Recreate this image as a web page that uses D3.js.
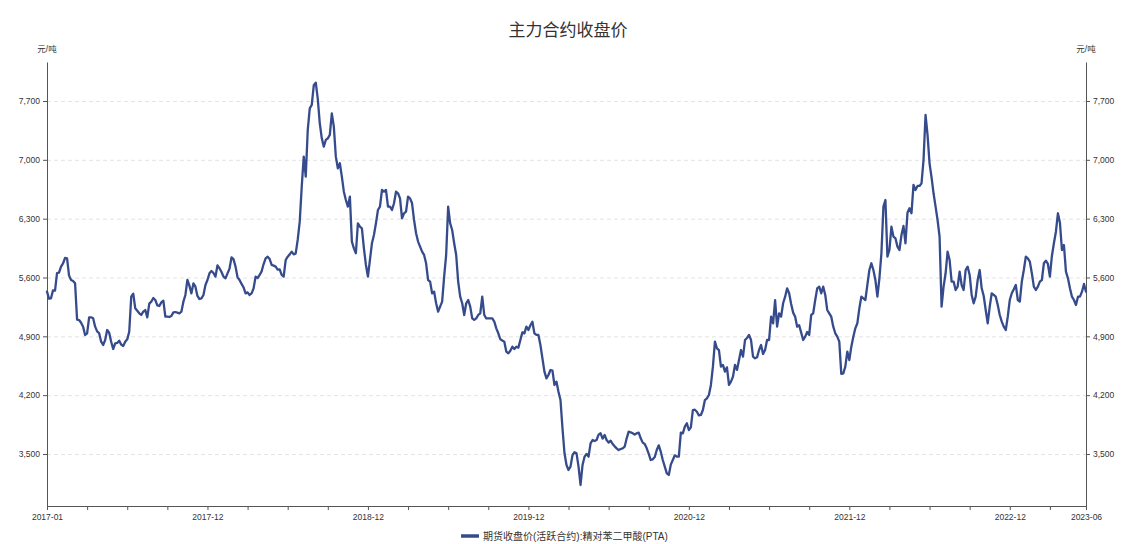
<!DOCTYPE html>
<html><head><meta charset="utf-8">
<script src="https://cdn.jsdelivr.net/npm/d3@7"></script>
<style>body{margin:0;background:#fff} svg{display:block}</style>
</head><body><svg id="c" width="1137" height="544"></svg>
<script>
const title = "主力合约收盘价";
const unit = "元/吨";
const seriesName = "期货收盘价(活跃合约):精对苯二甲酸(PTA)";
const xLabels = ["2017-01","2017-12","2018-12","2019-12","2020-12","2021-12","2022-12","2023-06"];
const xLabelIndex = [0,80,160,240,320,400,480,518];
const yTicks = [3500,4200,4900,5600,6300,7000,7700];
const prices = [
5431,5348,5352,5447,5443,5653,5657,5729,5768,5832,5828,5622,5570,5558,5530,5098,5094,5062,5015,4916,4936,5126,5126,5114,5015,4959,4936,4836,4797,4856,4975,4943,4836,4749,4817,4821,4848,4801,4785,4836,4864,4955,5372,5407,5233,5205,5174,5154,5193,5213,5126,5289,5312,5356,5332,5269,5261,5304,5324,5134,5134,5130,5142,5185,5189,5181,5174,5193,5312,5392,5570,5503,5411,5530,5491,5380,5344,5352,5392,5511,5570,5649,5677,5653,5610,5745,5709,5665,5610,5590,5649,5705,5840,5816,5729,5602,5570,5523,5483,5411,5423,5392,5411,5471,5610,5594,5630,5673,5760,5828,5848,5820,5749,5741,5729,5693,5697,5630,5610,5808,5848,5875,5907,5875,5887,6050,
6264,6681,7038,6800,7355,7613,7653,7887,7918,7724,7434,7256,7157,7236,7256,7296,7553,7395,7038,6899,6959,6800,6621,6522,6443,6562,6027,5947,5888,6245,6205,6185,5947,5749,5610,5808,6007,6106,6245,6403,6443,6641,6621,6641,6443,6443,6403,6483,6621,6602,6542,6304,6364,6383,6562,6542,6483,6284,6126,6027,5967,5907,5868,5769,5570,5551,5412,5432,5293,5194,5253,5313,5610,5868,6443,6245,6165,6007,5868,5551,5372,5293,5154,5293,5332,5253,5114,5095,5114,5154,5174,5372,5154,5114,5114,5114,5114,5075,4995,4936,4865,4850,
4836,4717,4697,4729,4777,4749,4777,4765,4856,4947,4935,5015,4975,5031,5074,4935,4916,4916,4797,4638,4479,4400,4440,4499,4491,4321,4360,4241,4142,3805,3508,3369,3309,3349,3488,3520,3508,3349,3131,3369,3468,3500,3468,3627,3666,3654,3666,3730,3746,3682,3726,3666,3635,3658,3619,3591,3567,3547,3559,3567,3587,3686,3765,3758,3746,3730,3746,3754,3686,3635,3619,3567,3500,3428,3436,3464,3547,3603,3527,3428,3349,3270,3250,3373,3428,3484,3468,3468,3754,3746,3825,3865,3785,3817,4023,4027,4003,3960,3964,4023,4142,4162,4202,4321,4539,4836,4757,4737,4539,4560,
4480,4531,4321,4361,4420,4559,4500,4618,4737,4658,4856,4880,4916,4856,4658,4638,4650,4737,4797,4690,4737,4856,4856,5134,5055,5330,5015,5174,5134,5293,5372,5471,5412,5285,5182,5134,5015,5031,4944,4856,4896,4952,4916,5154,5174,5332,5471,5491,5412,5491,5392,5213,5174,5134,5015,4936,4896,4836,4452,4460,4539,4718,4618,4777,4896,4995,5055,5233,5372,5352,5332,5511,5689,5769,5689,5570,5372,5590,5887,6443,6522,5848,5927,6205,
6086,6066,5967,5927,6106,6213,6007,6371,6423,6364,6701,6641,6689,6689,6720,6998,7534,7296,6958,6792,6602,6443,6284,6086,5253,5491,5650,5907,5808,5551,5551,5451,5491,5670,5511,5451,5689,5729,5630,5392,5293,5372,5570,5689,5471,5380,5213,5055,5253,5412,5392,5372,5273,5154,5074,5015,4975,5134,5332,5412,5459,5511,5332,5313,5551,5689,5848,5828,5788,5650,5491,5451,5491,5551,5570,5769,5800,5761,5610,5856,6007,6145,6364,6252,5927,5987,5670,5590,5471,5372,5332,5273,5372,5372,5431,5523,5431
];

const svg = d3.select("#c");
const FONT = "'Liberation Sans','Noto Sans CJK SC',Arial,sans-serif";
const L = 47, R = 1086, T = 62, B = 506;
const lineColor = "#364b8b";
const axisColor = "#555";
const textColor = "#333";

const x = d3.scaleLinear().domain([0, prices.length - 1]).range([L, R]);
const y = d3.scaleLinear().domain([2881, 8164]).range([B, T]);

svg.append("text").attr("x", 568).attr("y", 36).attr("text-anchor", "middle")
  .style("font-family", FONT).style("font-size", "17px").attr("fill", textColor).text(title);

svg.append("g").selectAll("line").data(yTicks).join("line")
  .attr("x1", L).attr("x2", R).attr("y1", d => y(d) + 0.5).attr("y2", d => y(d) + 0.5)
  .attr("stroke", "#e3e3e3").attr("stroke-dasharray", "4,3").attr("stroke-width", 1);

function styleAxis(g) {
  g.select(".domain").attr("stroke", axisColor);
  g.selectAll(".tick line").attr("stroke", axisColor);
  g.selectAll(".tick text").attr("fill", textColor).style("font-family", FONT).style("font-size", "8.5px");
}

const fmt = d3.format(",");
svg.append("g").attr("transform", `translate(${L},0)`)
  .call(d3.axisLeft(y).tickValues(yTicks).tickFormat(fmt).tickSize(4).tickSizeOuter(0).tickPadding(3))
  .call(styleAxis);
svg.append("g").attr("transform", `translate(${R},0)`)
  .call(d3.axisRight(y).tickValues(yTicks).tickFormat(fmt).tickSize(4).tickSizeOuter(0).tickPadding(3))
  .call(styleAxis);

const xTickVals = d3.range(0, prices.length, 20).concat([prices.length - 1]);
svg.append("g").attr("transform", `translate(0,${B})`)
  .call(d3.axisBottom(x).tickValues(xTickVals).tickSize(4).tickSizeOuter(0).tickPadding(4)
    .tickFormat(d => { const k = xLabelIndex.indexOf(d); return k >= 0 ? xLabels[k] : ""; }))
  .call(styleAxis);

[L, R].forEach(px => {
  svg.append("text").attr("x", px).attr("y", 52).attr("text-anchor", "middle")
    .style("font-family", FONT).style("font-size", "8.5px").attr("fill", textColor).text(unit);
});

const line = d3.line().x((d, i) => x(i)).y(d => y(d));
svg.append("path").datum(prices).attr("d", line)
  .attr("fill", "none").attr("stroke", lineColor).attr("stroke-width", 2.3)
  .attr("stroke-linejoin", "round").attr("stroke-linecap", "round");

const lg = svg.append("g").attr("transform", "translate(461,536)");
lg.append("line").attr("x1", 0).attr("x2", 18).attr("y1", 0).attr("y2", 0)
  .attr("stroke", lineColor).attr("stroke-width", 3.5);
lg.append("text").attr("x", 22).attr("y", 0).attr("dy", "0.35em")
  .style("font-family", FONT).style("font-size", "10px").attr("fill", textColor).text(seriesName);
</script></body></html>
